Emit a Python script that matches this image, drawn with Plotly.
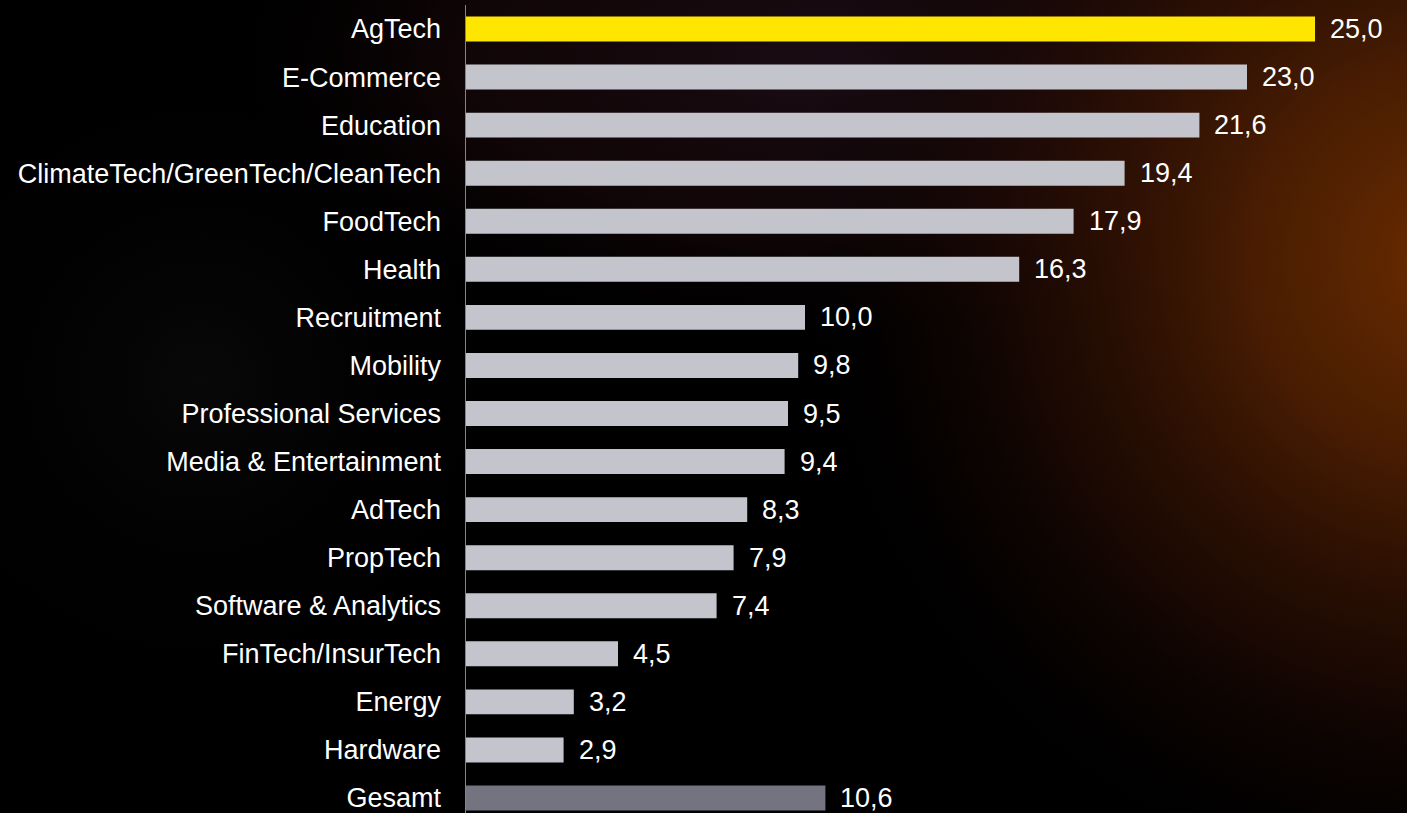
import base64
import plotly.graph_objects as go

categories = [
    "AgTech", "E-Commerce", "Education", "ClimateTech/GreenTech/CleanTech",
    "FoodTech", "Health", "Recruitment", "Mobility", "Professional Services",
    "Media & Entertainment", "AdTech", "PropTech", "Software & Analytics",
    "FinTech/InsurTech", "Energy", "Hardware", "Gesamt",
]
values = [25.0, 23.0, 21.6, 19.4, 17.9, 16.3, 10.0, 9.8, 9.5, 9.4, 8.3, 7.9,
          7.4, 4.5, 3.2, 2.9, 10.6]

YELLOW = "#FFE600"
GREY = "#C4C5CC"
DARK_GREY = "#747480"

colors = [YELLOW] + [GREY] * (len(categories) - 2) + [DARK_GREY]
labels = [f"{v:.1f}".replace(".", ",") for v in values]

W, H = 1407, 813
LEFT = 465
FONT = dict(family="Liberation Sans, Arial", size=27, color="white")

# background glow, drawn as an svg image behind everything
svg = f"""<svg xmlns='http://www.w3.org/2000/svg' width='{W}' height='{H}'>
<defs>
<radialGradient id='g1' cx='1450' cy='260' r='660' gradientUnits='userSpaceOnUse'>
<stop offset='0' stop-color='#6a2c00'/>
<stop offset='0.3' stop-color='#4c1e02' stop-opacity='0.95'/>
<stop offset='0.65' stop-color='#260c04' stop-opacity='0.65'/>
<stop offset='1' stop-color='#000000' stop-opacity='0'/>
</radialGradient>
<radialGradient id='g2' cx='850' cy='60' r='650' gradientUnits='userSpaceOnUse'
  gradientTransform='translate(850 60) scale(1 0.45) translate(-850 -60)'>
<stop offset='0' stop-color='#1a0c14'/>
<stop offset='0.6' stop-color='#140608' stop-opacity='0.8'/>
<stop offset='1' stop-color='#000000' stop-opacity='0'/>
</radialGradient>
<radialGradient id='g3' cx='200' cy='380' r='320' gradientUnits='userSpaceOnUse'>
<stop offset='0' stop-color='#080808'/>
<stop offset='1' stop-color='#000000' stop-opacity='0'/>
</radialGradient>
</defs>
<rect width='{W}' height='{H}' fill='#000000'/>
<rect width='{W}' height='{H}' fill='url(#g3)'/>
<rect width='{W}' height='{H}' fill='url(#g2)'/>
<rect width='{W}' height='{H}' fill='url(#g1)'/>
</svg>"""
bg = "data:image/svg+xml;base64," + base64.b64encode(svg.encode()).decode()

plot_w = W - LEFT
xmax = plot_w / 34.0

fig = go.Figure(go.Bar(
    x=values,
    y=categories,
    orientation="h",
    marker=dict(color=colors, line=dict(width=0)),
    width=0.52,
    hoverinfo="x+y",
))

for c, v, t in zip(categories, values, labels):
    fig.add_annotation(
        x=v, y=c, text=t, showarrow=False,
        xanchor="left", xshift=13,
        font=FONT,
    )

# vertical axis line
fig.add_shape(
    type="line", xref="x", yref="paper",
    x0=0, x1=0, y0=0, y1=(H - 5) / H,
    line=dict(color="#858585", width=2),
)

fig.update_layout(
    width=W, height=H,
    margin=dict(l=LEFT, r=0, t=0, b=0),
    paper_bgcolor="#000000",
    plot_bgcolor="rgba(0,0,0,0)",
    showlegend=False,
    images=[dict(
        source=bg, xref="paper", yref="paper",
        x=-LEFT / plot_w, y=1, sizex=W / plot_w, sizey=1,
        sizing="stretch", xanchor="left", yanchor="top", layer="below",
    )],
    xaxis=dict(range=[0, xmax], visible=False, fixedrange=True),
    yaxis=dict(
        range=[16 + 15 / 48.06, -29 / 48.06],
        showgrid=False, zeroline=False, showline=False,
        ticks="", ticklabelstandoff=23,
        tickfont=FONT,
        fixedrange=True,
    ),
)

# no page margin, so the chart sits flush in the window
post = (
    "var s=document.createElement('style');"
    "s.textContent='body{margin:0;overflow:hidden}';"
    "document.head.appendChild(s);"
)

fig.write_html("out.html", post_script=post, config={"displayModeBar": False})
